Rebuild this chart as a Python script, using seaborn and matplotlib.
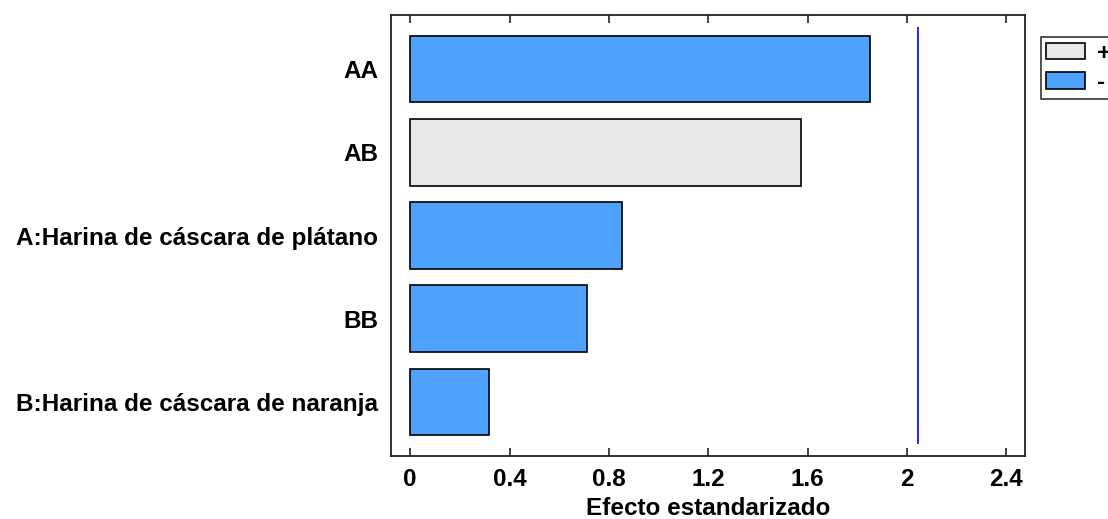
import matplotlib
matplotlib.use("Agg")
import matplotlib.pyplot as plt
import seaborn as sns
import pandas as pd
from matplotlib.patches import Patch

# Data
terms = ["AA", "AB", "A:Harina de cáscara de plátano", "BB", "B:Harina de cáscara de naranja"]
effects = [1.853, 1.572, 0.852, 0.712, 0.318]
signs = ["-", "+", "-", "-", "-"]
critical_value = 2.045
xticks = [0, 0.4, 0.8, 1.2, 1.6, 2.0, 2.4]
xtick_labels = ["0", "0.4", "0.8", "1.2", "1.6", "2", "2.4"]

sns.set_style("white")
plt.rcParams["font.family"] = ["Liberation Sans", "DejaVu Sans"]
plt.rcParams["font.weight"] = "bold"
plt.rcParams["text.color"] = "black"
plt.rcParams["xtick.color"] = "black"
plt.rcParams["ytick.color"] = "black"
plt.rcParams["axes.labelcolor"] = "black"

colors = {"+": "#E8E8E8", "-": "#4FA3FF"}
FS = 17.5

df = pd.DataFrame({"term": terms, "effect": effects, "sign": signs})

fig = plt.figure(figsize=(11.08, 5.19), dpi=100)
ax = fig.add_axes([391/1108, 1 - 456/519, (1025 - 391)/1108, (456 - 15)/519])

sns.barplot(data=df, y="term", x="effect", hue="sign", palette=colors,
            dodge=False, order=terms, hue_order=["+", "-"], width=0.8,
            saturation=1, edgecolor="black", linewidth=1.2, ax=ax, legend=False)

ax.vlines(critical_value, -0.5, 4.5, color="#0000FF", linewidth=1.2)

ax.set_xlim(-0.077, 2.475)
ax.set_ylim(4.65, -0.65)
ax.set_xticks(xticks)
ax.set_xticklabels(xtick_labels, fontsize=FS, fontweight="bold")
ax.set_yticks(range(len(terms)))
ax.set_yticklabels(terms, fontsize=FS, fontweight="bold")
ax.tick_params(axis="x", direction="in", length=6, width=1.2, top=True, bottom=True, pad=9, color="#222222")
ax.tick_params(axis="y", length=0, pad=9)
ax.set_xlabel("Efecto estandarizado", fontsize=FS, fontweight="bold", labelpad=4)
ax.set_ylabel("")
for s in ax.spines.values():
    s.set_visible(True)
    s.set_color("#222222")
    s.set_linewidth(1.3)

handles = [Patch(facecolor=colors["+"], edgecolor="black", linewidth=1.2),
           Patch(facecolor=colors["-"], edgecolor="black", linewidth=1.2)]
leg = fig.legend(handles, ["+", "-"], loc="upper left",
                 bbox_to_anchor=(1041/1108, 1 - 37/519), bbox_transform=fig.transFigure,
                 prop={"weight": "bold", "size": FS},
                 handlelength=1.6, handleheight=0.65, fancybox=False,
                 frameon=True, borderpad=0.2, labelspacing=0.25, handletextpad=0.5,
                 borderaxespad=0)
leg.get_frame().set_edgecolor("black")
leg.get_frame().set_linewidth(1.2)

fig.savefig("out.png", dpi=100)
